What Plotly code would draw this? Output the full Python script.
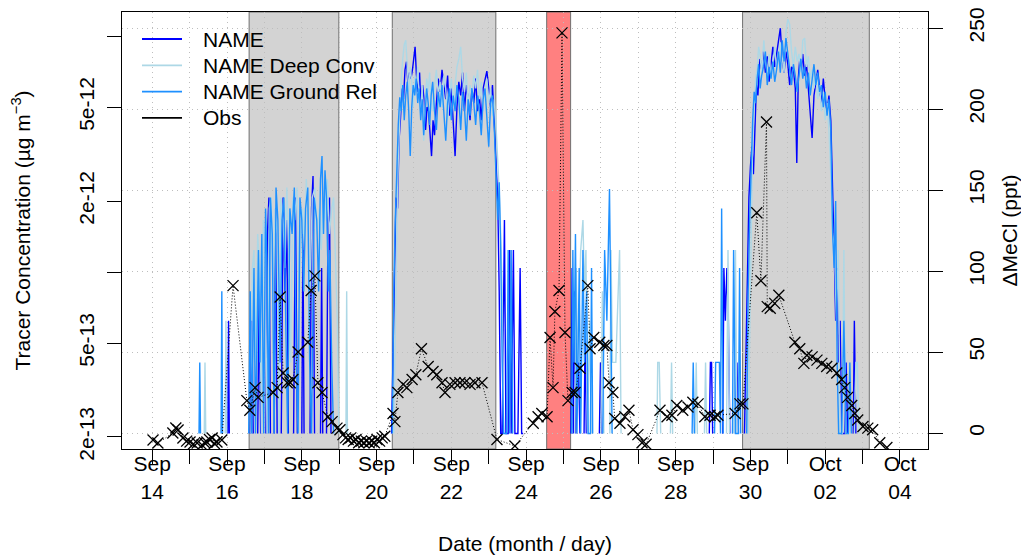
import plotly.graph_objects as go
import pandas as pd

# ---------------- data ----------------
# time = fractional day of September (Oct 2 = 32); concentration in units of 1e-13 ug m-3
CONC_UNIT = 1e-13

NAME = [
 (16.02, 2.07), (16.04, 6.21), (16.06, 2.07), (16.08, None),
 (16.62, 2.07), (16.66, 6.21), (16.70, 2.07), (16.72, None),
 (16.82, 2.07), (16.86, 8.28), (16.90, 2.07), (16.92, None),
 (17.04, 2.07), (17.08, 14.5), (17.12, 20.7), (17.16, 2.07), (17.18, None),
 (17.26, 2.07), (17.30, 18.6), (17.34, 2.07), (17.36, None),
 (17.45, 2.07), (17.50, 20.7), (17.55, 8.28), (17.60, 16.6), (17.64, 2.07), (17.66, None),
 (17.78, 2.07), (17.83, 20.7), (17.88, 2.07), (17.90, None),
 (18.00, 2.07), (18.03, 14.5), (18.06, 2.07), (18.08, None),
 (18.22, 2.07), (18.26, 18.6), (18.30, 25.5), (18.34, 2.07), (18.36, None),
 (18.50, 2.07), (18.53, 10.4), (18.56, 2.07), (18.58, None),
 (18.66, 2.07), (18.70, 16.6), (18.74, 20.7), (18.78, 2.07), (18.80, None),
 (20.40, 2.07), (20.44, 4.14), (20.48, 10.4), (20.52, 20.7), (20.56, 18.6), (20.60, 36),
 (20.64, 45), (20.68, 60), (20.72, 54), (20.76, 72), (20.80, 78), (20.84, 62), (20.88, 70),
 (20.92, 66), (20.96, 72), (21.00, 80), (21.03, 90), (21.07, 66), (21.11, 58), (21.15, 70),
 (21.19, 48), (21.23, 62), (21.27, 54), (21.31, 40), (21.35, 50), (21.39, 48), (21.43, 36),
 (21.47, 31), (21.51, 44), (21.55, 38), (21.60, 52), (21.65, 66), (21.70, 58), (21.75, 72),
 (21.80, 62), (21.85, 54), (21.90, 68), (21.95, 46), (22.00, 60), (22.05, 40), (22.10, 31),
 (22.15, 50), (22.20, 64), (22.25, 56), (22.30, 70), (22.35, 48), (22.40, 62), (22.45, 54),
 (22.50, 44), (22.55, 60), (22.60, 52), (22.65, 66), (22.70, 48), (22.75, 56), (22.80, 44),
 (22.85, 60), (22.90, 66), (22.95, 71), (23.00, 60), (23.05, 50), (23.10, 62), (23.15, 40),
 (23.20, 30), (23.24, 20.7), (23.28, 8.28), (23.32, 2.07), (23.36, 2.07), (23.42, 16.6),
 (23.46, 2.07), (23.52, 2.07), (23.56, 12.4), (23.60, 2.07), (23.66, 12.4), (23.70, 2.07),
 (23.78, 2.07), (23.84, 10.4), (23.88, 2.07), (23.92, 2.07), (23.94, None),
 (25.20, 2.07), (25.23, 10.4), (25.26, 2.07), (25.30, 8.28), (25.33, 2.07), (25.40, 4.14),
 (25.44, 2.07), (25.48, None), (25.55, 2.07), (25.58, 6.21), (25.61, 2.07), (25.63, None),
 (25.96, 2.07), (25.99, 4.14), (26.02, 2.07), (26.04, None),
 (28.90, 2.07), (28.93, 4.14), (28.96, 4.14), (28.99, 2.07), (29.01, None),
 (29.26, 2.07), (29.29, 10.4), (29.33, 6.21), (29.37, 10.4), (29.41, 6.21), (29.45, 2.07), (29.47, None),
 (29.60, 2.07), (29.64, 4.14), (29.68, 2.07), (29.70, None),
 (29.84, 2.07), (29.88, 4.14), (29.92, 10.4), (29.96, 20.7), (30.00, 28), (30.04, 34),
 (30.08, 26), (30.12, 44), (30.16, 62), (30.20, 56), (30.25, 80), (30.30, 72), (30.35, 86),
 (30.40, 70), (30.45, 82), (30.50, 64), (30.55, 76), (30.60, 90), (30.65, 74), (30.70, 84),
 (30.75, 96), (30.80, 108), (30.85, 80), (30.90, 70), (30.95, 86), (31.00, 76), (31.05, 62),
 (31.10, 74), (31.15, 72), (31.20, 60), (31.24, 29), (31.28, 66), (31.32, 80), (31.36, 72),
 (31.40, 84), (31.45, 68), (31.50, 76), (31.55, 58), (31.60, 46), (31.65, 37), (31.70, 56),
 (31.75, 64), (31.80, 72), (31.85, 60), (31.90, 52), (31.95, 66), (32.00, 54), (32.05, 48),
 (32.10, 56), (32.15, 44), (32.20, 24), (32.24, 12.4), (32.28, 6.21), (32.32, 10.4),
 (32.36, 4.14), (32.40, 6.21), (32.44, 2.07), (32.52, 2.07), (32.56, 4.14), (32.60, 2.07),
 (32.62, None), (32.75, 2.07), (32.78, 6.21), (32.82, 2.07), (32.84, None),
]

NAME_GROUND_REL = [
 (15.25, 2.07), (15.27, 4.14), (15.29, 2.07), (15.31, None),
 (15.84, 2.07), (15.86, 8.28), (15.88, 2.07), (15.90, None),
 (16.58, 2.07), (16.62, 8.28), (16.66, 2.07), (16.72, 10.4), (16.76, 2.07), (16.84, 12.4),
 (16.88, 4.14), (16.93, 14.5), (16.98, 2.07), (17.03, 18.6), (17.07, 10.4), (17.11, 2.07),
 (17.16, 20.7), (17.21, 14.5), (17.26, 2.07), (17.31, 22.8), (17.36, 16.6), (17.42, 4.14),
 (17.47, 16.6), (17.52, 20.7), (17.57, 6.21), (17.62, 2.07), (17.68, 18.6), (17.74, 14.5),
 (17.80, 22.8), (17.85, 4.14), (17.90, 2.07), (17.95, 20.7), (18.00, 16.6), (18.05, 8.28),
 (18.10, 18.6), (18.16, 22.8), (18.21, 4.14), (18.26, 2.07), (18.33, 20.7), (18.40, 16.6),
 (18.45, 8.28), (18.50, 24.8), (18.54, 31.0), (18.58, 14.5), (18.62, 27.0), (18.66, 20.7),
 (18.71, 8.28), (18.75, 12.4), (18.80, 4.14), (18.85, 2.07), (18.87, None),
 (20.42, 2.07), (20.46, 8.28), (20.50, 16.6), (20.54, 28), (20.58, 42), (20.62, 55),
 (20.66, 48), (20.70, 62), (20.74, 44), (20.78, 56), (20.82, 64), (20.86, 48), (20.90, 31),
 (20.94, 50), (20.98, 62), (21.02, 56), (21.06, 66), (21.10, 52), (21.14, 60), (21.18, 44),
 (21.22, 54), (21.26, 38), (21.30, 48), (21.34, 60), (21.38, 52), (21.42, 42), (21.46, 56),
 (21.50, 64), (21.55, 48), (21.60, 40), (21.65, 58), (21.70, 50), (21.75, 62), (21.80, 46),
 (21.85, 36), (21.90, 52), (21.95, 60), (22.00, 44), (22.05, 56), (22.10, 48), (22.15, 62),
 (22.20, 54), (22.25, 40), (22.30, 58), (22.35, 50), (22.40, 36), (22.45, 54), (22.50, 46),
 (22.55, 60), (22.60, 52), (22.65, 42), (22.70, 56), (22.75, 48), (22.80, 38), (22.85, 54),
 (22.90, 60), (22.95, 46), (23.00, 34), (23.05, 52), (23.10, 56), (23.15, 40), (23.20, 26),
 (23.24, 16.6), (23.28, 24), (23.32, 12.4), (23.36, 4.14), (23.40, 2.07), (23.48, 2.07),
 (23.52, 12.4), (23.56, 2.07), (23.60, 12.4), (23.64, 2.07), (23.66, None),
 (25.22, 2.07), (25.25, 12.4), (25.28, 4.14), (25.32, 14.5), (25.36, 2.07), (25.42, 10.4),
 (25.46, 2.07), (25.52, 12.4), (25.56, 4.14), (25.62, 8.28), (25.66, 2.07), (25.72, 2.07),
 (25.75, 10.4), (25.78, 2.07), (25.80, None),
 (26.05, 2.07), (26.10, 12.4), (26.16, 6.21), (26.20, 16.6), (26.23, 22.5), (26.26, 8.28),
 (26.30, 2.07), (26.32, None),
 (28.44, 2.07), (28.47, 4.14), (28.50, 2.07), (28.52, None),
 (29.04, 2.07), (29.07, 4.14), (29.17, 4.14), (29.20, 2.07), (29.23, 18.6), (29.27, 2.07),
 (29.29, None), (29.52, 2.07), (29.55, 12.4), (29.60, 2.07), (29.68, 2.07), (29.71, 10.4),
 (29.74, 2.07), (29.76, None),
 (29.90, 2.07), (29.94, 8.28), (29.98, 16.6), (30.02, 30), (30.06, 44), (30.10, 58),
 (30.14, 52), (30.18, 66), (30.22, 76), (30.26, 60), (30.30, 68), (30.35, 74), (30.40, 86),
 (30.45, 62), (30.50, 74), (30.55, 66), (30.60, 78), (30.65, 64), (30.70, 72), (30.75, 86),
 (30.80, 70), (30.85, 96), (30.90, 78), (30.95, 98), (31.00, 84), (31.05, 70), (31.10, 62),
 (31.15, 76), (31.20, 68), (31.25, 58), (31.30, 70), (31.35, 80), (31.40, 66), (31.45, 74),
 (31.50, 60), (31.55, 70), (31.60, 56), (31.65, 64), (31.70, 76), (31.75, 62), (31.80, 70),
 (31.85, 58), (31.90, 62), (31.95, 50), (32.00, 58), (32.05, 46), (32.10, 54), (32.15, 40),
 (32.20, 14.5), (32.24, 10.4), (32.28, 20), (32.32, 4.14), (32.36, 2.07), (32.44, 2.07),
 (32.50, 6.21), (32.56, 2.07), (32.62, 2.07), (32.66, 4.14), (32.70, 2.07), (32.72, None),
]

NAME_DEEP_CONV = [
 (15.39, 2.07), (15.41, 4.14), (15.43, 2.07), (15.45, None),
 (15.95, 2.07), (15.97, 6.21), (15.99, 2.07), (16.01, None),
 (16.64, 2.07), (16.68, 10.4), (16.72, 12.4), (16.77, 4.14), (16.82, 14.5), (16.87, 10.4),
 (16.92, 2.07), (16.97, 16.6), (17.02, 12.4), (17.07, 2.07), (17.13, 18.6), (17.18, 20.7),
 (17.23, 8.28), (17.29, 18.6), (17.34, 14.5), (17.39, 2.07), (17.44, 20.7), (17.50, 16.6),
 (17.55, 10.4), (17.60, 22.8), (17.65, 12.4), (17.70, 4.14), (17.76, 20.7), (17.81, 16.6),
 (17.87, 22.8), (17.92, 8.28), (17.97, 14.5), (18.02, 18.6), (18.07, 12.4), (18.12, 24.8),
 (18.17, 16.6), (18.22, 8.28), (18.28, 20.7), (18.35, 22.8), (18.41, 14.5), (18.47, 18.6),
 (18.52, 12.4), (18.57, 20.7), (18.62, 16.6), (18.68, 24.8), (18.74, 14.5), (18.80, 18.6),
 (18.85, 20.7), (18.90, 12.4), (18.95, 6.21), (18.99, 2.07), (19.01, None),
 (19.18, 2.07), (19.20, 8.28), (19.22, 2.07), (19.24, None),
 (20.46, 2.07), (20.50, 6.21), (20.54, 14.5), (20.58, 30), (20.62, 48), (20.66, 66),
 (20.70, 80), (20.74, 92), (20.78, 96), (20.82, 70), (20.86, 58), (20.90, 74), (20.94, 64),
 (20.98, 50), (21.02, 68), (21.06, 60), (21.10, 74), (21.14, 56), (21.18, 46), (21.22, 62),
 (21.26, 36), (21.30, 52), (21.34, 66), (21.38, 58), (21.42, 70), (21.46, 54), (21.50, 48),
 (21.55, 62), (21.60, 72), (21.65, 56), (21.70, 64), (21.75, 50), (21.80, 68), (21.85, 60),
 (21.90, 44), (21.95, 56), (22.00, 66), (22.05, 52), (22.10, 62), (22.15, 74), (22.20, 80),
 (22.25, 90), (22.30, 66), (22.35, 58), (22.40, 70), (22.45, 50), (22.50, 62), (22.55, 56),
 (22.60, 68), (22.65, 60), (22.70, 72), (22.75, 54), (22.80, 64), (22.85, 48), (22.90, 58),
 (22.95, 66), (23.00, 52), (23.05, 60), (23.10, 46), (23.15, 54), (23.20, 40), (23.24, 30),
 (23.28, 22), (23.32, 14.5), (23.36, 8.28), (23.40, 2.07), (23.42, None),
 (25.30, 2.07), (25.34, 10.4), (25.38, 4.14), (25.46, 12.4), (25.52, 16.6), (25.56, 8.28),
 (25.60, 12.4), (25.64, 2.07), (25.70, 6.21), (25.74, 2.07), (25.76, None),
 (26.00, 2.07), (26.04, 8.28), (26.08, 2.07), (26.10, None),
 (26.24, 2.07), (26.27, 12.4), (26.31, 4.14), (26.40, 4.14), (26.50, 12.4), (26.54, 2.07), (26.56, None),
 (27.50, 2.07), (27.52, 4.14), (27.56, 4.14), (27.60, 2.07), (27.62, None),
 (27.86, 2.07), (27.89, 4.14), (27.92, 2.07), (27.94, None),
 (28.52, 2.07), (28.55, 4.14), (28.58, 2.07), (28.60, None),
 (28.77, 2.07), (28.80, 4.14), (28.83, 2.07), (28.85, None),
 (29.36, 2.07), (29.40, 12.4), (29.44, 2.07), (29.46, None),
 (29.56, 2.07), (29.60, 12.4), (29.64, 2.07), (29.66, None),
 (29.94, 2.07), (29.98, 6.21), (30.02, 20), (30.06, 36), (30.10, 50), (30.14, 66),
 (30.18, 72), (30.22, 90), (30.26, 82), (30.30, 70), (30.36, 96), (30.40, 78), (30.45, 70),
 (30.50, 84), (30.55, 66), (30.60, 80), (30.65, 90), (30.70, 72), (30.75, 80), (30.80, 94),
 (30.85, 82), (30.90, 70), (30.95, 104), (31.00, 118), (31.05, 112), (31.10, 86), (31.15, 74),
 (31.20, 90), (31.25, 78), (31.30, 84), (31.35, 70), (31.40, 96), (31.45, 98), (31.50, 74),
 (31.55, 82), (31.60, 66), (31.65, 72), (31.70, 60), (31.75, 68), (31.80, 54), (31.85, 62),
 (31.90, 48), (31.95, 58), (32.00, 44), (32.05, 52), (32.10, 40), (32.15, 26), (32.20, 14.5),
 (32.25, 12.4), (32.30, 6.21), (32.35, 12.4), (32.40, 2.07), (32.46, 2.07), (32.50, 12.4),
 (32.54, 2.07), (32.56, None), (32.78, 2.07), (32.82, 4.14), (32.86, 4.14), (32.90, 2.07),
 (32.92, None),
]

# observed Delta MeCl (ppt), right axis
OBS = [
 (14.02, -4.3), (14.15, -6.2), (14.55, 0), (14.63, 3.1), (14.69, 1.9), (14.82, -3.1),
 (14.92, -5.0), (15.01, -5.6), (15.10, -6.8), (15.20, -6.2), (15.33, -7.4), (15.40, -6.0),
 (15.46, -5.6), (15.53, -4.0), (15.60, -3.1), (15.66, -6.5), (15.73, -5.6), (15.86, -4.3),
 (16.16, 91), (16.53, 20), (16.61, 14), (16.75, 28), (16.83, 22), (17.23, 25), (17.34, 28),
 (17.42, 84), (17.50, 37), (17.61, 31), (17.69, 31), (17.76, 33), (17.90, 50), (18.16, 56),
 (18.25, 88), (18.35, 97), (18.43, 31), (18.54, 25), (18.70, 10), (18.81, 7), (18.94, 3),
 (19.02, 2), (19.10, -1), (19.17, -3), (19.24, -4), (19.31, -3), (19.38, -5), (19.45, -4),
 (19.52, -6), (19.59, -5), (19.66, -6), (19.73, -5), (19.80, -6), (19.87, -5), (19.94, -6),
 (20.01, -4), (20.08, -5), (20.15, -3), (20.22, -2),
 (20.44, 12), (20.49, 7), (20.57, 25), (20.71, 30), (20.81, 28), (20.95, 33), (21.05, 36),
 (21.20, 52), (21.38, 41), (21.51, 38), (21.61, 36), (21.75, 31), (21.83, 25), (21.96, 30),
 (22.10, 31), (22.23, 31), (22.36, 31), (22.50, 30), (22.63, 31), (22.82, 31),
 (23.22, -4), (23.70, -8), (24.19, 6), (24.32, 10), (24.42, 12), (24.56, 10), (24.64, 59),
 (24.72, 28), (24.77, 75), (24.88, 88), (24.96, 247), (25.04, 62), (25.12, 20), (25.23, 25),
 (25.31, 25), (25.44, 40), (25.65, 91), (25.71, 52), (25.81, 59), (25.97, 56), (26.08, 54),
 (26.16, 54), (26.22, 31), (26.32, 25), (26.37, 9), (26.51, 6), (26.64, 10), (26.75, 14),
 (26.86, 2), (26.99, -1), (27.10, -6), (27.21, -7),
 (27.58, 14), (27.77, 10), (27.90, 11), (28.03, 17), (28.19, 14), (28.33, 16), (28.46, 19),
 (28.60, 18), (28.78, 10), (28.92, 11), (29.05, 10), (29.13, 11), (29.59, 12), (29.72, 18),
 (29.80, 18),
 (30.17, 136), (30.28, 94), (30.43, 192), (30.45, 78), (30.53, 77), (30.65, 80), (30.76, 85),
 (31.19, 56), (31.32, 52), (31.43, 43), (31.51, 48), (31.65, 47), (31.78, 45), (31.91, 43),
 (32.04, 41), (32.18, 40), (32.31, 37), (32.44, 33), (32.52, 28), (32.60, 22), (32.71, 17),
 (32.79, 12), (32.87, 8), (33.01, 4), (33.14, 3), (33.27, 2), (33.46, -6), (33.65, -9),
]

SHADE_START = [16.59, 20.42, 29.79]
SHADE_END = [18.99, 23.19, 33.18]
RED_START = [24.55]
RED_END = [25.19]

TICK_DAYS = list(range(14, 35))
TICK_LABELS = ["Sep<br>14", "", "Sep<br>16", "", "Sep<br>18", "", "Sep<br>20", "",
               "Sep<br>22", "", "Sep<br>24", "", "Sep<br>26", "", "Sep<br>28", "",
               "Sep<br>30", "", "Oct<br>02", "", "Oct<br>04"]

LEFT_TICKS = [2e-13, 5e-13, 1e-12, 2e-12, 5e-12, 1e-11]
LEFT_LABELS = ["2e-13", "5e-13", "", "2e-12", "5e-12", ""]
RIGHT_TICKS = [0, 50, 100, 150, 200, 250]

LEGEND_LABELS = ["NAME", "NAME Deep Conv", "NAME Ground Rel", "Obs"]
LEGEND_COLORS = ["#0000FF", "#ADD8E6", "#1E90FF", "black"]

X_RANGE_DAYS = [13.19, 34.75]

# ---------------- build ----------------
BASE = pd.Timestamp("2013-09-01")


def to_date(d):
    return BASE + pd.Timedelta(days=d - 1)


FONT = "Liberation Sans, Arial, Helvetica, sans-serif"
fig = go.Figure()

model_series = [
    ("NAME", NAME, "#0000FF"),
    ("NAME Deep Conv", NAME_DEEP_CONV, "#ADD8E6"),
    ("NAME Ground Rel", NAME_GROUND_REL, "#1E90FF"),
]
for label, data, color in model_series:
    fig.add_trace(go.Scatter(
        x=[to_date(t) for t, _ in data],
        y=[None if v is None else v * CONC_UNIT for _, v in data],
        mode="lines", line=dict(color=color, width=1.4),
        name=label, showlegend=False, connectgaps=False, yaxis="y"))

fig.add_trace(go.Scatter(
    x=[to_date(t) for t, _ in OBS], y=[v for _, v in OBS],
    mode="lines+markers", yaxis="y2", showlegend=False, name="Obs",
    line=dict(color="black", width=1, dash="1px,2px"),
    marker=dict(symbol="x-thin", size=11, color="black",
                line=dict(width=1.3, color="black"))))

# shape layer: try to place the red band above grid lines
try:
    go.layout.Shape(layer="between")
    RED_LAYER = "between"
except Exception:
    RED_LAYER = "below"

shapes = []
for s, e in zip(SHADE_START, SHADE_END):
    shapes.append(dict(type="rect", xref="x", yref="paper",
                       x0=to_date(s), x1=to_date(e), y0=0, y1=1,
                       fillcolor="#D3D3D3", line=dict(color="#707070", width=1),
                       layer="below"))
for s, e in zip(RED_START, RED_END):
    shapes.append(dict(type="rect", xref="x", yref="paper",
                       x0=to_date(s), x1=to_date(e), y0=0, y1=1,
                       fillcolor="#FF8080", line=dict(color="#707070", width=1),
                       layer=RED_LAYER))

# manual legend (line samples + text)
PLOT_L, PLOT_T, PLOT_W, PLOT_H = 122, 12, 806, 437
annotations = []
for i, (lab, col) in enumerate(zip(LEGEND_LABELS, LEGEND_COLORS)):
    ypx = 39 + 26.3 * i
    yp = 1 - (ypx - PLOT_T) / PLOT_H
    shapes.append(dict(type="line", xref="paper", yref="paper",
                       x0=(142 - PLOT_L) / PLOT_W, x1=(182 - PLOT_L) / PLOT_W,
                       y0=yp, y1=yp, line=dict(color=col, width=1.8), layer="above"))
    annotations.append(dict(text=lab, xref="paper", yref="paper",
                            x=(201 - PLOT_L) / PLOT_W, y=yp, xanchor="left",
                            yanchor="middle", showarrow=False,
                            font=dict(size=21, color="black", family=FONT)))

fig.update_layout(
    width=1021, height=555,
    margin=dict(l=122, r=93, t=12, b=106),
    paper_bgcolor="white", plot_bgcolor="white",
    font=dict(family=FONT, size=21, color="black"),
    shapes=shapes, annotations=annotations,
    showlegend=False,
    xaxis=dict(
        type="date",
        range=[to_date(X_RANGE_DAYS[0]), to_date(X_RANGE_DAYS[1])],
        tickvals=[to_date(d) for d in TICK_DAYS], ticktext=TICK_LABELS,
        ticks="outside", ticklen=14, tickwidth=1, tickcolor="black",
        showline=True, linecolor="black", linewidth=1, mirror=True,
        showgrid=True, gridcolor="#BEBEBE", griddash="1px,4px", gridwidth=1,
        zeroline=False, tickfont=dict(size=21), ticklabelstandoff=-18,
        title=dict(text="Date (month / day)", font=dict(size=21), standoff=36),
        automargin=False,
    ),
    yaxis=dict(
        type="log", range=[-12.750, -10.898],
        tickvals=LEFT_TICKS, ticktext=LEFT_LABELS, tickangle=-90,
        ticks="outside", ticklen=14, tickwidth=1, tickcolor="black",
        showline=True, linecolor="black", linewidth=1, mirror=True,
        showgrid=False, zeroline=False, tickfont=dict(size=21),
        ticklabelstandoff=5,
        title=dict(text="Tracer Concentration (\u00b5g m<sup>\u22123</sup>)",
                   font=dict(size=21), standoff=38),
        automargin=False,
    ),
    yaxis2=dict(
        overlaying="y", side="right", range=[-9.88, 259.9],
        tickvals=RIGHT_TICKS, tickangle=-90,
        ticks="outside", ticklen=14, tickwidth=1, tickcolor="black",
        showline=True, linecolor="black", linewidth=1,
        showgrid=True, gridcolor="#BEBEBE", griddash="1px,4px", gridwidth=1,
        zeroline=False, tickfont=dict(size=21), ticklabelstandoff=16,
        title=dict(text="\u0394MeCl (ppt)", font=dict(size=21), standoff=18),
        automargin=False,
    ),
)

fig.write_html("out.html")
